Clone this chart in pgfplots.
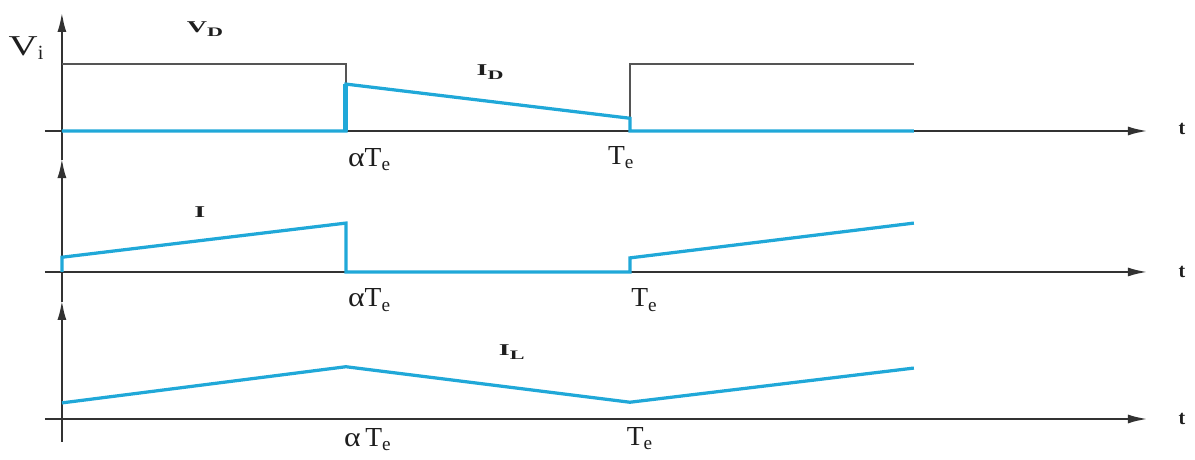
\documentclass[border=0pt]{standalone}
\usepackage{pgfplots}
\pgfplotsset{compat=1.18}
\usetikzlibrary{arrows.meta}
\usepackage{fontspec}
\setmainfont{Liberation Serif}

\definecolor{wavecol}{RGB}{32,168,216}
\definecolor{volt}{RGB}{85,85,85}
\definecolor{axiscol}{RGB}{50,50,50}
\definecolor{txt}{RGB}{30,30,30}

% wide, small signal names (letter with a lowered index letter)
\newcommand{\sig}[2]{\bfseries\scalebox{1.7}[1]{\fontsize{6.6}{7}\selectfont #1}\raisebox{-1.4pt}{\scalebox{1.7}[1]{\fontsize{5.2}{6}\selectfont #2}}}
% time-axis labels
\newcommand{\aT}{{\fontsize{11}{12}\selectfont\scalebox{1.15}[1]{α}T\textsubscript{e}}}
\newcommand{\Te}{{\fontsize{11}{12}\selectfont T\textsubscript{e}}}
\newcommand{\tlab}{{\fontsize{8}{9}\selectfont\bfseries t}}

\tikzset{
  taxis/.style={draw=axiscol, line width=1pt, -{Latex[length=8pt,width=3.6pt]}},
}
\pgfplotsset{
  panel/.style={
    scale only axis, width=478pt, hide axis, clip=false,
    xmin=-0.109, xmax=1.995,
    every axis plot/.append style={line join=miter},
  },
  wavestyle/.style={color=wavecol, line width=1.3pt},
}

\begin{document}
\begin{tikzpicture}[every node/.style={text=txt}]
\useasboundingbox (0,0) rectangle (478pt,-184pt);

% ---- diode voltage and diode current ----
\begin{axis}[panel, height=58pt, ymin=-0.209, ymax=1.955,
  at={(0,0)}, anchor=north west]
  \draw[taxis] (axis cs:-0.03,0) -- (axis cs:1.912,0);
  \draw[taxis] (axis cs:0,-0.433) -- (axis cs:0,1.776);
  \addplot[color=volt, line width=0.8pt] coordinates {(0,1) (0.5,1) (0.5,0)};
  \addplot[color=volt, line width=0.8pt] coordinates {(1,0) (1,1) (1.5,1)};
  \addplot[wavestyle] coordinates {(0,0) (0.5,0) (0.5,0.70) (1,0.19) (1,0) (1.5,0)};
  \addplot[color=wavecol, line width=2pt] coordinates {(0.5,0) (0.5,0.70)};
  \node at (axis cs:0.252,1.52) {\sig{V}{D}};
  \node at (axis cs:-0.062,1.239) {\fontsize{11.5}{12}\selectfont\scalebox{1.4}[1]{V}\textsubscript{i}};
  \node at (axis cs:0.754,0.88) {\sig{I}{D}};
  \node at (axis cs:0.542,-0.43) {\aT};
  \node at (axis cs:0.985,-0.40) {\Te};
  \node at (axis cs:1.972,0.03) {\tlab};
\end{axis}

% ---- switch current ----
\begin{axis}[panel, height=58pt, ymin=-0.269, ymax=1.896,
  at={(0,-58pt)}, anchor=north west]
  \draw[taxis] (axis cs:-0.03,0) -- (axis cs:1.912,0);
  \draw[taxis] (axis cs:0,-0.448) -- (axis cs:0,1.70);
  \addplot[wavestyle] coordinates {(0,0) (0,0.22) (0.5,0.73) (0.5,0) (1,0) (1,0.21) (1.5,0.73)};
  \node at (axis cs:0.243,0.896) {\bfseries\scalebox{1.7}[1]{\fontsize{6.6}{7}\selectfont I}};
  \node at (axis cs:0.542,-0.42) {\aT};
  \node at (axis cs:1.026,-0.42) {\Te};
  \node at (axis cs:1.972,0.0) {\tlab};
\end{axis}

% ---- inductor current ----
\begin{axis}[panel, height=68pt, ymin=-0.612, ymax=1.925,
  at={(0,-116pt)}, anchor=north west]
  \draw[taxis] (axis cs:-0.03,0) -- (axis cs:1.912,0);
  \draw[taxis] (axis cs:0,-0.343) -- (axis cs:0,1.776);
  \addplot[wavestyle] coordinates {(0,0.24) (0.5,0.78) (1,0.25) (1.5,0.76)};
  \node at (axis cs:0.792,1.0) {\sig{I}{L}};
  \node at (axis cs:0.539,-0.31) {{\fontsize{11}{12}\selectfont\scalebox{1.15}[1]{α}\,T\textsubscript{e}}};
  \node at (axis cs:1.018,-0.29) {\Te};
  \node at (axis cs:1.972,0.0) {\tlab};
\end{axis}

\end{tikzpicture}
\end{document}
